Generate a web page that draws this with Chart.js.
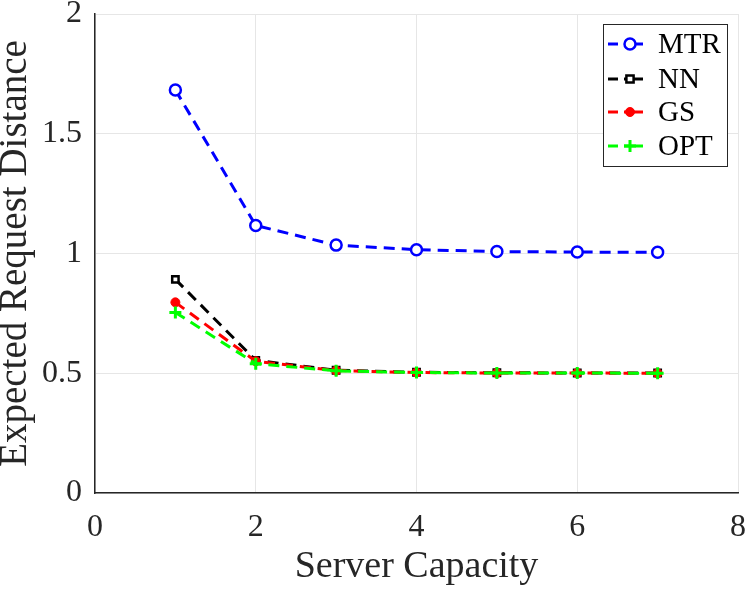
<!DOCTYPE html>
<html>
<head>
<meta charset="utf-8">
<script src="https://cdn.jsdelivr.net/npm/chart.js@4.4.0/dist/chart.umd.min.js"></script>
<style>
html,body{margin:0;padding:0;background:#fff;}
#wrap{width:747px;height:590px;position:relative;}
</style>
</head>
<body>
<div id="wrap"><canvas id="c" width="747" height="590"></canvas></div>
<script>
const capacity = [1, 2, 3, 4, 5, 6, 7];
const mtr = [1.683, 1.117, 1.035, 1.016, 1.008, 1.006, 1.005];
const nn  = [0.892, 0.554, 0.5125, 0.504, 0.502, 0.501, 0.501];
const gs  = [0.796, 0.55, 0.511, 0.503, 0.501, 0.501, 0.5];
const opt = [0.754, 0.54, 0.510, 0.503, 0.501, 0.501, 0.5];
const xTicks = [0, 2, 4, 6, 8];
const yTicks = [0, 0.5, 1, 1.5, 2];
const seriesNames = ['MTR', 'NN', 'GS', 'OPT'];

const FONT = "'Liberation Serif', 'Times New Roman', serif";
const toPts = arr => capacity.map((x, i) => ({x: x, y: arr[i]}));

const dash = [11, 7];
const datasets = [
  {label: seriesNames[0], data: toPts(mtr), borderColor: '#0000ff', backgroundColor: '#ffffff', order: 3,
   pointBorderColor: '#0000ff', pointStyle: 'circle', pointRadius: 5.5, pointBorderWidth: 2.5},
  {label: seriesNames[1], data: toPts(nn), borderColor: '#000000', backgroundColor: '#ffffff', order: 2,
   pointBorderColor: '#000000', pointStyle: 'rect', pointRadius: 4.5, pointBorderWidth: 2.5},
  {label: seriesNames[2], data: toPts(gs), borderColor: '#ff0000', backgroundColor: '#ff0000', order: 1,
   pointBorderColor: '#ff0000', pointStyle: 'circle', pointRadius: 4.5, pointBorderWidth: 1},
  {label: seriesNames[3], data: toPts(opt), borderColor: '#00ff00', backgroundColor: '#00ff00', order: 0,
   pointBorderColor: '#00ff00', pointStyle: 'cross', pointRadius: 6, pointBorderWidth: 3}
].map(d => Object.assign({borderWidth: 3, borderDash: dash, fill: false, tension: 0, showLine: true}, d));

const legendPlugin = {
  id: 'boxLegend',
  afterDraw(chart) {
    const ctx = chart.ctx;
    const bx = 603, by = 24, bw = 124, bh = 142;
    ctx.save();
    ctx.fillStyle = '#ffffff';
    ctx.fillRect(bx, by, bw, bh);
    ctx.strokeStyle = '#262626';
    ctx.lineWidth = 1;
    ctx.strokeRect(bx + 0.5, by + 0.5, bw, bh);
    const ys = [44, 79, 112, 146];
    chart.data.datasets.forEach((ds, i) => {
      const y = ys[i];
      ctx.strokeStyle = ds.borderColor;
      ctx.lineWidth = 3;
      ctx.setLineDash([]);
      ctx.beginPath(); ctx.moveTo(608, y); ctx.lineTo(618, y); ctx.stroke();
      ctx.beginPath(); ctx.moveTo(624, y); ctx.lineTo(643, y); ctx.stroke();
      ctx.fillStyle = ds.backgroundColor;
      ctx.strokeStyle = ds.pointBorderColor;
      ctx.lineWidth = ds.pointBorderWidth;
      ctx.beginPath();
      if (ds.pointStyle === 'circle') {
        ctx.arc(630, y, ds.pointRadius, 0, Math.PI * 2);
        ctx.fill(); ctx.stroke();
      } else if (ds.pointStyle === 'rect') {
        const r = ds.pointRadius * 0.8;
        ctx.rect(630 - r, y - r, 2 * r, 2 * r);
        ctx.fill(); ctx.stroke();
      } else {
        ctx.moveTo(630 - ds.pointRadius, y); ctx.lineTo(630 + ds.pointRadius, y);
        ctx.moveTo(630, y - ds.pointRadius); ctx.lineTo(630, y + ds.pointRadius);
        ctx.stroke();
      }
      ctx.fillStyle = '#000000';
      ctx.font = '29px ' + FONT;
      ctx.textAlign = 'left';
      ctx.textBaseline = 'middle';
      ctx.fillText(ds.label, 658, y + 1);
    });
    ctx.restore();
  }
};

new Chart(document.getElementById('c'), {
  type: 'scatter',
  data: {datasets: datasets},
  plugins: [legendPlugin],
  options: {
    responsive: false,
    animation: false,
    devicePixelRatio: 1,
    layout: {padding: {left: 0, right: 7, top: 14, bottom: 0}},
    plugins: {legend: {display: false}, tooltip: {enabled: false}},
    scales: {
      x: {
        type: 'linear', min: 0, max: 8,
        afterBuildTicks: s => { s.ticks = xTicks.map(v => ({value: v})); },
        afterFit: s => { s.height = 97; s.paddingLeft = 0; s.paddingRight = 0; },
        grid: {color: '#e6e6e6', lineWidth: 1, drawTicks: false},
        border: {color: '#262626', width: 1.5},
        ticks: {color: '#262626', font: {family: FONT, size: 32}, padding: 15, maxRotation: 0},
        title: {display: true, text: 'Server Capacity', color: '#262626',
                font: {family: FONT, size: 38}, padding: {top: 0, bottom: 0}}
      },
      y: {
        type: 'linear', min: 0, max: 2,
        afterBuildTicks: s => { s.ticks = yTicks.map(v => ({value: v})); },
        afterFit: s => { s.width = 95; s.paddingTop = 0; s.paddingBottom = 0; },
        grid: {color: '#e6e6e6', lineWidth: 1, drawTicks: false},
        border: {color: '#262626', width: 1.5},
        ticks: {color: '#262626', font: {family: FONT, size: 32}, padding: 13,
                callback: v => String(v)},
        title: {display: true, text: 'Expected Request Distance', color: '#262626',
                font: {family: FONT, size: 39, lineHeight: 0.8}, padding: {top: 0, bottom: 0}}
      }
    }
  }
});
</script>
</body>
</html>
